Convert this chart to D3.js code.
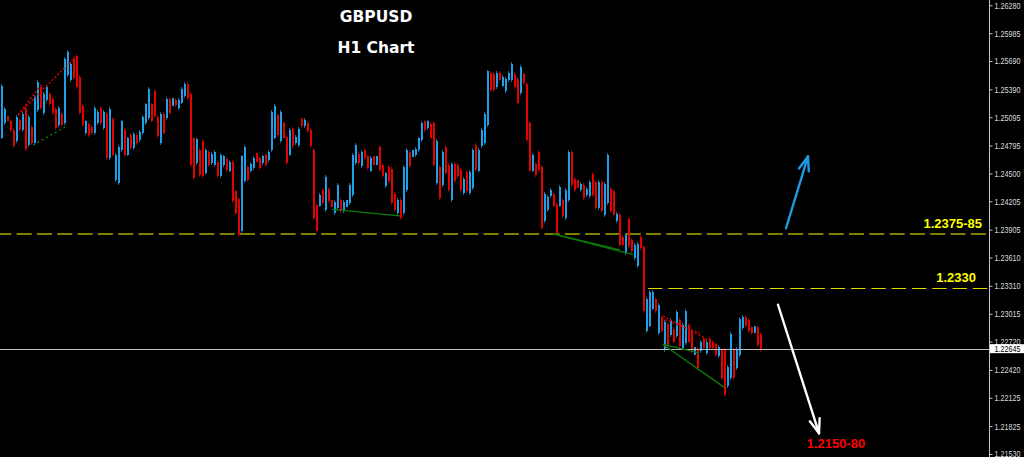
<!DOCTYPE html>
<html><head><meta charset="utf-8">
<script src="https://cdn.jsdelivr.net/npm/d3@7"></script>
<style>html,body{margin:0;padding:0;background:#000;overflow:hidden}</style>
</head><body><svg id="c" width="1024" height="457"></svg>
<script>
const opens = [
1.2488,1.2503,1.2511,1.2505,1.2496,1.2484,1.2507,1.2496,1.2519,1.2480,
1.2499,1.2482,1.2517,1.2542,1.2514,1.2528,1.2534,1.2529,1.2518,1.2501,
1.2513,1.2503,1.2554,1.2549,1.2571,1.2574,1.2552,1.2521,1.2493,1.2502,
1.2499,1.2493,1.2503,1.2519,1.2498,1.2513,1.2466,1.2508,1.2443,1.2440,
1.2475,1.2496,1.2470,1.2491,1.2477,1.2491,1.2485,1.2493,1.2503,1.2509,
1.2523,1.2537,1.2510,1.2482,1.2513,1.2509,1.2529,1.2521,1.2528,1.2519,
1.2525,1.2532,1.2545,1.2534,1.2487,1.2461,1.2475,1.2484,1.2450,1.2473,
1.2461,1.2459,1.2462,1.2447,1.2459,1.2465,1.2453,1.2462,1.2431,1.2423,
1.2389,1.2442,1.2457,1.2453,1.2456,1.2472,1.2466,1.2461,1.2470,1.2464,
1.2475,1.2488,1.2512,1.2484,1.2503,1.2489,1.2470,1.2497,1.2482,1.2480,
1.2508,1.2500,1.2503,1.2496,1.2475,1.2417,1.2416,1.2433,1.2411,1.2434,
1.2422,1.2408,1.2413,1.2422,1.2410,1.2415,1.2419,1.2427,1.2461,1.2471,
1.2458,1.2475,1.2468,1.2453,1.2468,1.2459,1.2478,1.2459,1.2437,1.2457,
1.2455,1.2428,1.2408,1.2422,1.2408,1.2432,1.2473,1.2467,1.2469,1.2475,
1.2485,1.2505,1.2498,1.2502,1.2503,1.2440,1.2457,1.2438,1.2478,1.2459,
1.2422,1.2460,1.2459,1.2454,1.2429,1.2452,1.2429,1.2435,1.2480,1.2453,
1.2479,1.2482,1.2501,1.2556,1.2555,1.2541,1.2556,1.2543,1.2537,1.2549,
1.2549,1.2555,1.2550,1.2535,1.2555,1.2545,1.2503,1.2453,1.2460,1.2473,
1.2457,1.2400,1.2411,1.2426,1.2428,1.2418,1.2416,1.2422,1.2403,1.2422,
1.2473,1.2444,1.2443,1.2432,1.2438,1.2427,1.2426,1.2449,1.2441,1.2413,
1.2441,1.2406,1.2419,1.2434,1.2431,1.2400,1.2406,1.2383,1.2366,1.2402,
1.2380,1.2360,1.2352,1.2383,1.2372,1.2283,1.2289,1.2307,1.2317,1.2281,
1.2298,1.2263,1.2291,1.2279,1.2285,1.2278,1.2295,1.2265,1.2270,1.2290,
1.2282,1.2258,1.2264,1.2262,1.2275,1.2260,1.2275,1.2272,1.2269,1.2257,
1.2263,1.2263,1.2225,1.2233,1.2263,1.2244,1.2258,1.2286,1.2298,1.2295,
1.2287,1.2281,1.2287,1.2280];
const highs = [
1.2545,1.2520,1.2511,1.2507,1.2498,1.2512,1.2509,1.2515,1.2521,1.2512,
1.2501,1.2533,1.2549,1.2544,1.2536,1.2544,1.2536,1.2531,1.2520,1.2521,
1.2515,1.2573,1.2581,1.2568,1.2573,1.2576,1.2554,1.2523,1.2507,1.2504,
1.2501,1.2521,1.2517,1.2521,1.2517,1.2515,1.2520,1.2510,1.2472,1.2480,
1.2507,1.2498,1.2489,1.2493,1.2494,1.2493,1.2496,1.2512,1.2525,1.2541,
1.2525,1.2539,1.2512,1.2515,1.2515,1.2531,1.2531,1.2530,1.2530,1.2530,
1.2541,1.2547,1.2547,1.2536,1.2489,1.2488,1.2477,1.2486,1.2477,1.2475,
1.2473,1.2475,1.2464,1.2472,1.2470,1.2467,1.2464,1.2464,1.2433,1.2425,
1.2470,1.2480,1.2459,1.2462,1.2468,1.2472,1.2468,1.2470,1.2472,1.2475,
1.2517,1.2523,1.2514,1.2517,1.2505,1.2491,1.2498,1.2499,1.2491,1.2499,
1.2510,1.2509,1.2505,1.2498,1.2477,1.2419,1.2429,1.2435,1.2448,1.2436,
1.2422,1.2422,1.2440,1.2424,1.2422,1.2422,1.2440,1.2472,1.2482,1.2473,
1.2475,1.2477,1.2470,1.2468,1.2468,1.2468,1.2480,1.2461,1.2452,1.2459,
1.2457,1.2430,1.2424,1.2424,1.2459,1.2477,1.2475,1.2475,1.2478,1.2489,
1.2505,1.2507,1.2507,1.2504,1.2505,1.2486,1.2459,1.2475,1.2480,1.2461,
1.2462,1.2462,1.2461,1.2456,1.2446,1.2454,1.2454,1.2477,1.2482,1.2477,
1.2498,1.2515,1.2560,1.2558,1.2557,1.2558,1.2558,1.2554,1.2552,1.2558,
1.2568,1.2557,1.2552,1.2565,1.2557,1.2547,1.2505,1.2472,1.2462,1.2475,
1.2459,1.2430,1.2427,1.2435,1.2430,1.2420,1.2438,1.2424,1.2435,1.2475,
1.2475,1.2446,1.2443,1.2441,1.2440,1.2436,1.2443,1.2451,1.2443,1.2443,
1.2443,1.2441,1.2472,1.2436,1.2433,1.2409,1.2408,1.2385,1.2387,1.2404,
1.2382,1.2376,1.2377,1.2385,1.2374,1.2319,1.2327,1.2327,1.2319,1.2313,
1.2300,1.2295,1.2293,1.2297,1.2287,1.2305,1.2297,1.2292,1.2306,1.2292,
1.2284,1.2266,1.2266,1.2274,1.2277,1.2274,1.2277,1.2274,1.2271,1.2268,
1.2265,1.2265,1.2247,1.2282,1.2265,1.2266,1.2298,1.2300,1.2300,1.2297,
1.2289,1.2289,1.2289,1.2282];
const lows = [
1.2486,1.2501,1.2505,1.2494,1.2477,1.2482,1.2494,1.2494,1.2474,1.2478,
1.2480,1.2480,1.2515,1.2517,1.2512,1.2526,1.2521,1.2512,1.2496,1.2499,
1.2499,1.2501,1.2552,1.2547,1.2549,1.2539,1.2512,1.2499,1.2491,1.2489,
1.2491,1.2491,1.2501,1.2501,1.2496,1.2464,1.2464,1.2467,1.2441,1.2438,
1.2473,1.2467,1.2468,1.2475,1.2475,1.2480,1.2483,1.2491,1.2501,1.2507,
1.2504,1.2509,1.2488,1.2480,1.2491,1.2507,1.2512,1.2521,1.2520,1.2517,
1.2523,1.2530,1.2528,1.2457,1.2443,1.2459,1.2446,1.2445,1.2448,1.2457,
1.2459,1.2457,1.2445,1.2445,1.2457,1.2452,1.2451,1.2419,1.2406,1.2383,
1.2387,1.2440,1.2441,1.2451,1.2454,1.2462,1.2454,1.2459,1.2457,1.2462,
1.2473,1.2486,1.2489,1.2482,1.2486,1.2459,1.2468,1.2477,1.2480,1.2478,
1.2498,1.2498,1.2493,1.2477,1.2401,1.2387,1.2414,1.2417,1.2409,1.2419,
1.2414,1.2406,1.2411,1.2408,1.2408,1.2415,1.2417,1.2425,1.2459,1.2459,
1.2456,1.2464,1.2454,1.2451,1.2459,1.2459,1.2452,1.2445,1.2435,1.2440,
1.2417,1.2409,1.2406,1.2401,1.2406,1.2430,1.2456,1.2467,1.2467,1.2473,
1.2483,1.2494,1.2496,1.2486,1.2457,1.2438,1.2422,1.2436,1.2448,1.2430,
1.2420,1.2440,1.2445,1.2430,1.2427,1.2429,1.2427,1.2433,1.2452,1.2451,
1.2477,1.2480,1.2499,1.2536,1.2536,1.2539,1.2547,1.2541,1.2535,1.2547,
1.2547,1.2539,1.2523,1.2533,1.2544,1.2483,1.2451,1.2451,1.2446,1.2452,
1.2390,1.2398,1.2409,1.2424,1.2414,1.2385,1.2414,1.2403,1.2401,1.2420,
1.2436,1.2430,1.2435,1.2430,1.2422,1.2425,1.2424,1.2425,1.2411,1.2411,
1.2408,1.2404,1.2417,1.2408,1.2404,1.2398,1.2372,1.2372,1.2364,1.2371,
1.2366,1.2358,1.2350,1.2369,1.2302,1.2281,1.2287,1.2305,1.2302,1.2279,
1.2281,1.2261,1.2266,1.2277,1.2270,1.2276,1.2265,1.2263,1.2268,1.2270,
1.2260,1.2258,1.2242,1.2260,1.2263,1.2258,1.2263,1.2263,1.2256,1.2255,
1.2231,1.2213,1.2223,1.2231,1.2231,1.2242,1.2256,1.2284,1.2286,1.2281,
1.2279,1.2281,1.2266,1.2261];
const closes = [
1.2543,1.2518,1.2505,1.2496,1.2479,1.2510,1.2496,1.2513,1.2476,1.2510,
1.2482,1.2531,1.2547,1.2519,1.2534,1.2542,1.2523,1.2514,1.2498,1.2519,
1.2501,1.2571,1.2579,1.2566,1.2551,1.2541,1.2514,1.2501,1.2505,1.2491,
1.2493,1.2519,1.2515,1.2503,1.2515,1.2466,1.2518,1.2469,1.2470,1.2478,
1.2505,1.2469,1.2487,1.2477,1.2492,1.2482,1.2494,1.2510,1.2523,1.2539,
1.2506,1.2511,1.2490,1.2513,1.2493,1.2529,1.2514,1.2530,1.2522,1.2528,
1.2539,1.2545,1.2530,1.2459,1.2445,1.2486,1.2448,1.2447,1.2475,1.2459,
1.2471,1.2473,1.2447,1.2470,1.2468,1.2454,1.2462,1.2421,1.2408,1.2385,
1.2468,1.2478,1.2443,1.2460,1.2466,1.2462,1.2456,1.2468,1.2459,1.2473,
1.2515,1.2521,1.2491,1.2515,1.2488,1.2461,1.2496,1.2479,1.2489,1.2497,
1.2500,1.2507,1.2495,1.2479,1.2403,1.2389,1.2427,1.2419,1.2446,1.2421,
1.2414,1.2420,1.2438,1.2410,1.2420,1.2422,1.2438,1.2470,1.2480,1.2461,
1.2473,1.2466,1.2456,1.2466,1.2459,1.2468,1.2454,1.2447,1.2450,1.2442,
1.2419,1.2411,1.2422,1.2403,1.2457,1.2475,1.2458,1.2475,1.2476,1.2487,
1.2503,1.2496,1.2505,1.2488,1.2459,1.2484,1.2424,1.2473,1.2450,1.2432,
1.2460,1.2442,1.2447,1.2432,1.2444,1.2431,1.2452,1.2475,1.2454,1.2475,
1.2496,1.2513,1.2558,1.2538,1.2538,1.2556,1.2549,1.2552,1.2550,1.2556,
1.2566,1.2541,1.2525,1.2563,1.2546,1.2485,1.2453,1.2470,1.2448,1.2454,
1.2392,1.2428,1.2425,1.2433,1.2416,1.2387,1.2436,1.2405,1.2433,1.2473,
1.2438,1.2432,1.2435,1.2439,1.2424,1.2434,1.2441,1.2427,1.2413,1.2441,
1.2410,1.2439,1.2470,1.2410,1.2406,1.2407,1.2374,1.2374,1.2385,1.2373,
1.2368,1.2374,1.2375,1.2371,1.2304,1.2317,1.2325,1.2325,1.2304,1.2311,
1.2283,1.2293,1.2268,1.2295,1.2272,1.2303,1.2267,1.2290,1.2304,1.2272,
1.2262,1.2266,1.2244,1.2272,1.2265,1.2272,1.2265,1.2265,1.2258,1.2266,
1.2233,1.2215,1.2245,1.2280,1.2233,1.2264,1.2296,1.2298,1.2288,1.2283,
1.2281,1.2289,1.2268,1.22645];

const yTicks = [1.26280,1.25985,1.25690,1.25390,1.25095,1.24795,1.24500,1.24205,1.23905,1.23610,1.23310,1.23015,1.22720,1.22420,1.22125,1.21825,1.21530];
const currentPrice = 1.22645;
const titleLines = ["GBPUSD", "H1 Chart"];
const levelPrices = [1.2386, 1.2329];
const levelStarts = [0, 215.7];
const levelLabels = ["1.2375-85", "1.2330"];
const targetLabel = "1.2150-80";
// trend lines: [startIndex, startPrice, endIndex, endPrice]
const redTrends = [[5.67,1.2512,13.67,1.2545],[5.67,1.2512,24.67,1.2573],[220.67,1.2299,238.67,1.2269],[221.33,1.2295,233,1.2281]];
const greenDotted = [[10.67,1.2480,21.33,1.2499]];
const greenTrends = [[110.33,1.2412,133,1.2405],[184,1.2386,210.67,1.2364],[184,1.2386,206.33,1.2369],[220.67,1.2269,241.33,1.2223],[220.67,1.2269,232.67,1.2260]];
// arrows: [startIndex, startPrice, endIndex, endPrice]
const upArrow = [261.67,1.2392,269,1.2468];
const downArrow = [259,1.2311,272.67,1.2175];

const W=1024,H=457,AX=989;
const svg=d3.select("#c");
svg.append("rect").attr("width",W).attr("height",H).attr("fill","#000");
const x=d3.scaleLinear().domain([0,opens.length-1]).range([1,760]);
const y=d3.scaleLinear().domain([1.2153,1.2628]).range([454,5.3]);

// level lines
const olive="#808000", yellow="#dede00";
svg.append("line").attr("x1",x(levelStarts[0])-1).attr("x2",AX).attr("y1",y(levelPrices[0])).attr("y2",y(levelPrices[0]))
  .attr("stroke",olive).attr("stroke-width",2).attr("stroke-dasharray","15,5.3").attr("stroke-dashoffset",3.6);
svg.append("line").attr("x1",x(levelStarts[1])).attr("x2",AX).attr("y1",Math.round(y(levelPrices[1]))+0.5).attr("y2",Math.round(y(levelPrices[1]))+0.5)
  .attr("stroke",yellow).attr("stroke-width",1).attr("stroke-dasharray","14.3,6");

// candles
const data=opens.map((o,i)=>({i,o,h:highs[i],l:lows[i],c:closes[i]}));
const cg=svg.append("g").attr("shape-rendering","crispEdges");
cg.selectAll("line.w").data(data).join("line").attr("class","w")
  .attr("x1",d=>Math.round(x(d.i))+0.5).attr("x2",d=>Math.round(x(d.i))+0.5)
  .attr("y1",d=>y(d.h)).attr("y2",d=>y(d.l))
  .attr("stroke",d=>d.c>=d.o?"#17709f":"#920000").attr("stroke-width",1);
cg.selectAll("rect.b").data(data).join("rect").attr("class","b")
  .attr("x",d=>Math.round(x(d.i))).attr("width",2)
  .attr("y",d=>y(Math.max(d.o,d.c))).attr("height",d=>Math.max(1,Math.abs(y(d.o)-y(d.c))))
  .attr("fill",d=>d.c>=d.o?"#1ea0e8":"#e60000");

// current price line
const py=y(currentPrice);
svg.append("line").attr("x1",0).attr("x2",AX).attr("y1",Math.round(py)+0.5).attr("y2",Math.round(py)+0.5)
  .attr("stroke","#c0c0c0").attr("stroke-width",1);

// trend lines
function seg(arr,color,dash,w){
  svg.append("g").selectAll("line").data(arr).join("line")
    .attr("x1",d=>x(d[0])).attr("y1",d=>y(d[1])).attr("x2",d=>x(d[2])).attr("y2",d=>y(d[3]))
    .attr("stroke",color).attr("stroke-width",w).attr("stroke-dasharray",dash);
}
seg(redTrends,"#d00000","2,2",1.5);
seg(greenDotted,"#0a7d0a","2,3",1.5);
seg(greenTrends,"#0a7d0a",null,1.3);

// arrows
function arrow(a,color){
  const x1=x(a[0]),y1=y(a[1]),x2=x(a[2]),y2=y(a[3]);
  const ang=Math.atan2(y2-y1,x2-x1), th=20*Math.PI/180, L=15;
  const g=svg.append("g").attr("stroke",color).attr("stroke-width",2.4).attr("stroke-linecap","round").attr("fill","none");
  g.append("line").attr("x1",x1).attr("y1",y1).attr("x2",x2).attr("y2",y2);
  [ang+th,ang-th].forEach(t=>{
    g.append("line").attr("x1",x2).attr("y1",y2).attr("x2",x2-L*Math.cos(t)).attr("y2",y2-L*Math.sin(t));
  });
  return [x2,y2];
}
arrow(upArrow,"#1e9be0");
const tip=arrow(downArrow,"#ffffff");

// labels
const lf="bold 13px 'Liberation Sans',Arial,sans-serif";
svg.append("text").attr("x",982).attr("y",y(levelPrices[0])-5.5).attr("text-anchor","end").attr("fill","#ffff00").style("font",lf).text(levelLabels[0]);
svg.append("text").attr("x",976).attr("y",y(levelPrices[1])-5.5).attr("text-anchor","end").attr("fill","#ffff00").style("font",lf).text(levelLabels[1]);
svg.append("text").attr("x",tip[0]+17).attr("y",tip[1]+15).attr("text-anchor","middle").attr("fill","#ff0000").style("font",lf).text(targetLabel);

// title
svg.selectAll("text.t").data(titleLines).join("text").attr("class","t")
  .attr("x",376).attr("y",(d,i)=>i===0?22:52.5).attr("text-anchor","middle")
  .attr("fill","#fff").style("font","bold 15.5px 'DejaVu Sans',Verdana,sans-serif").text(d=>d);

// axis
svg.append("line").attr("x1",AX+0.5).attr("x2",AX+0.5).attr("y1",0).attr("y2",H).attr("stroke","#c8c8c8");
const axis=d3.axisRight(y).tickValues(yTicks).tickSize(3).tickPadding(2).tickFormat(d3.format(".5f"));
const ag=svg.append("g").attr("transform",`translate(${AX+0.5},0)`).call(axis);
ag.select(".domain").remove();
ag.selectAll(".tick line").attr("stroke","#c8c8c8");
ag.selectAll(".tick text").attr("fill","#dcdcdc").style("font","9px 'Liberation Sans Narrow','Liberation Sans',Arial,sans-serif")
  .attr("textLength",26).attr("lengthAdjust","spacingAndGlyphs");

// current price box
svg.append("rect").attr("x",AX+1).attr("y",py-4.5).attr("width",34).attr("height",9).attr("fill","#fff");
svg.append("text").attr("x",AX+5.5).attr("y",py+3.3).attr("fill","#000").style("font","9px 'Liberation Sans Narrow','Liberation Sans',Arial,sans-serif")
  .attr("textLength",26).attr("lengthAdjust","spacingAndGlyphs").text(d3.format(".5f")(currentPrice));
</script></body></html>
